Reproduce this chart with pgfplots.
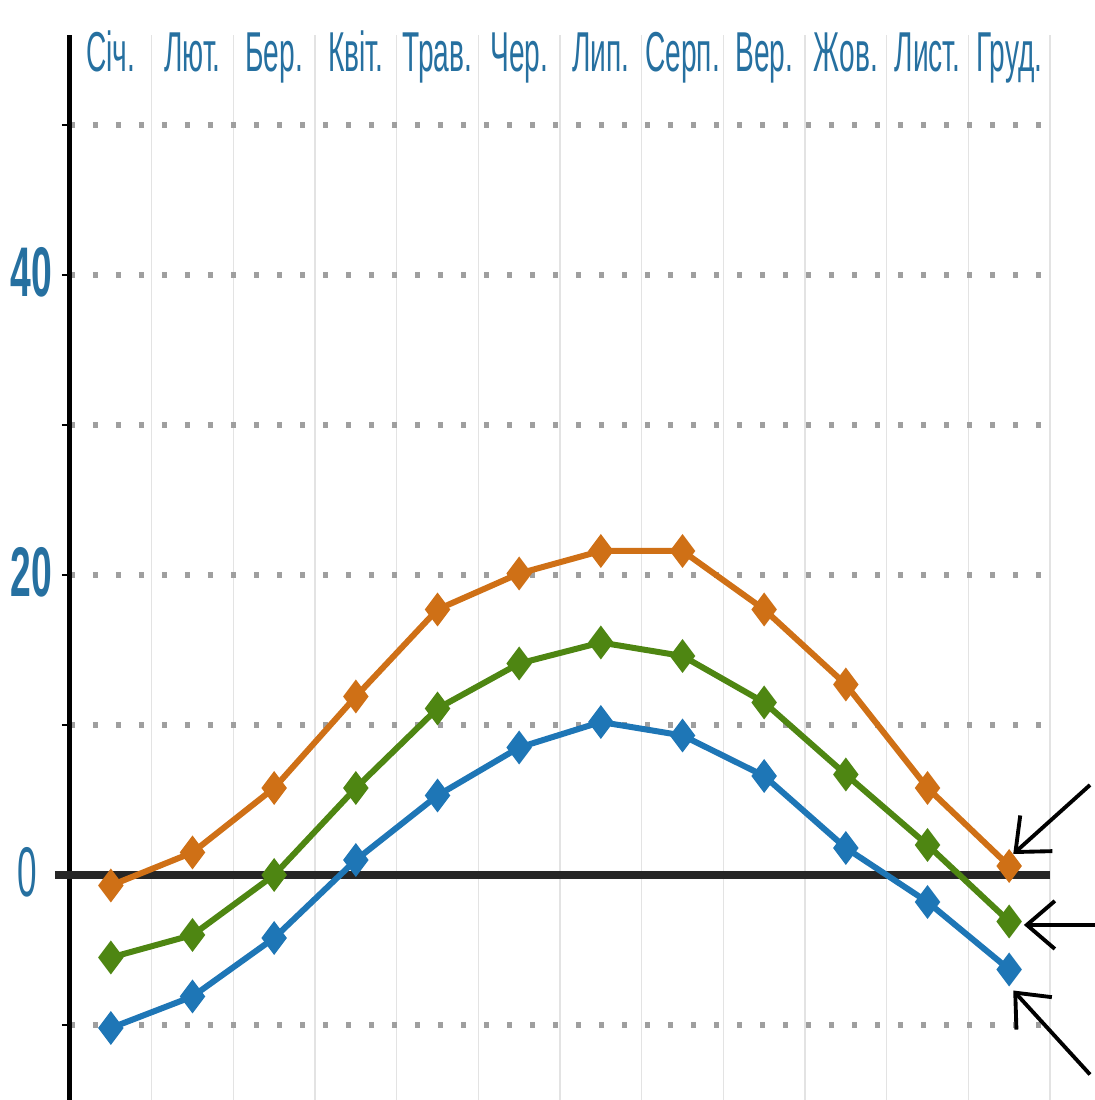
\documentclass[border=0pt]{standalone}
\usepackage{pgfplots}
\pgfplotsset{compat=1.18}
\usetikzlibrary{arrows.meta}
\usepackage{fontspec}
\setmainfont{Liberation Sans}
\definecolor{cor}{RGB}{207,112,22}
\definecolor{cgr}{RGB}{78,134,18}
\definecolor{cbl}{RGB}{30,118,182}
\definecolor{clab}{RGB}{38,112,160}
\newcommand{\nl}[1]{\scalebox{0.5}[1]{#1}}
\newcommand{\yl}[1]{\scalebox{0.53}[1]{\bfseries #1}}
\newcommand{\ylz}[1]{\scalebox{0.5}[1]{#1}\rule{1.5mm}{0pt}}
\begin{document}
\begin{tikzpicture}
\useasboundingbox (-7mm,0) rectangle (102.5mm,110mm);
\begin{axis}[
  at={(0,0)}, anchor=south west,
  scale only axis, width=98mm, height=106.5mm,
  xmin=0.5, xmax=12.5, ymin=-15, ymax=56,
  clip=false,
  axis line style={draw=none},
  xtick={1,...,12},
  xticklabels={\nl{Січ.},\nl{Лют.},\nl{Бер.},\nl{Квіт.},\nl{Трав.},\nl{Чер.},\nl{Лип.},\nl{Серп.},\nl{Вер.},\nl{Жов.},\nl{Лист.},\nl{Груд.}},
  xticklabel pos=upper,
  xticklabel style={anchor=base, yshift=-4.5mm, inner sep=0pt, font=\fontsize{16}{17}\selectfont, text=clab},
  major x tick style={draw=none},
  minor xtick={1.5,2.5,...,12.5},
  minor x tick style={draw=none},
  minor x grid style={gray!22, line width=0.3pt},
  xminorgrids=true,
  ytick={-10,0,...,50},
  yticklabels={,\ylz{0},,\yl{20},,\yl{40},},
  yticklabel style={font=\fontsize{20}{21}\selectfont, text=clab, inner sep=0pt, xshift=-0.9mm, yshift=0.3mm},
  ytick pos=left,
  tick align=outside,
  major y tick style={black, line width=0.6pt},
  major tick length=0.8mm,
  ymajorgrids=true,
  major y grid style={gray!75, line width=0.55mm, dash pattern=on 0.5mm off 1.8mm},
]
\draw[black, line width=0.5mm] (axis cs:0.5,-15) -- (axis cs:0.5,56);
\draw[black!85, line width=0.8mm] (axis cs:0.316,0) -- (axis cs:12.5,0);
\addplot[cor, line width=0.6mm, mark=diamond*, mark size=1.2mm] coordinates {
(1,-0.7)(2,1.5)(3,5.8)(4,11.9)(5,17.7)(6,20.1)(7,21.6)(8,21.6)(9,17.7)(10,12.7)(11,5.8)(12,0.6)};
\addplot[cgr, line width=0.6mm, mark=diamond*, mark size=1.2mm] coordinates {
(1,-5.5)(2,-4.0)(3,0.0)(4,5.8)(5,11.1)(6,14.1)(7,15.5)(8,14.6)(9,11.5)(10,6.7)(11,2.0)(12,-3.1)};
\addplot[cbl, line width=0.6mm, mark=diamond*, mark size=1.2mm] coordinates {
(1,-10.2)(2,-8.1)(3,-4.2)(4,1.0)(5,5.3)(6,8.5)(7,10.2)(8,9.3)(9,6.6)(10,1.8)(11,-1.8)(12,-6.3)};
\draw[black, line width=1.1pt, -{Straight Barb[length=2.8mm,width=4.8mm]}] (axis cs:12.99,6.0) -- (axis cs:12.05,1.4);
\draw[black, line width=1.1pt, -{Straight Barb[length=2.8mm,width=4.8mm]}] (axis cs:13.1,-3.33) -- (axis cs:12.18,-3.33);
\draw[black, line width=1.1pt, -{Straight Barb[length=2.8mm,width=4.8mm]}] (axis cs:12.99,-13.3) -- (axis cs:12.05,-7.7);
\end{axis}
\end{tikzpicture}
\end{document}
